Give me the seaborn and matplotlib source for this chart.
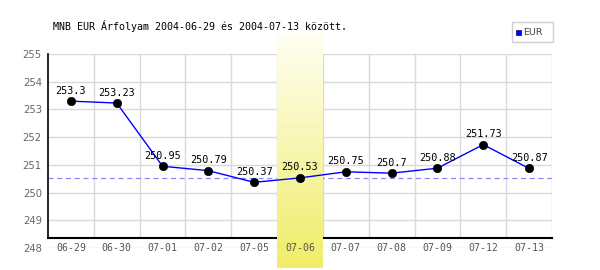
import matplotlib
matplotlib.use("Agg")
import matplotlib.pyplot as plt
import seaborn as sns
import numpy as np
import pandas as pd
from matplotlib.patches import Rectangle

dates = ["06-29", "06-30", "07-01", "07-02", "07-05", "07-06",
         "07-07", "07-08", "07-09", "07-12", "07-13"]
values = [253.3, 253.23, 250.95, 250.79, 250.37, 250.53,
          250.75, 250.7, 250.88, 251.73, 250.87]
value_labels = ["253.3", "253.23", "250.95", "250.79", "250.37", "250.53",
                "250.75", "250.7", "250.88", "251.73", "250.87"]
y_ticks = [248, 249, 250, 251, 252, 253, 254, 255]
highlight = "07-06"
ref_value = 250.53
title = "MNB EUR Árfolyam 2004-06-29 és 2004-07-13 között."
series_name = "EUR"

sns.set_style("white")
plt.rcParams['font.family'] = ['DejaVu Sans']

df = pd.DataFrame({"x": np.arange(len(dates)), "v": values})

fig = plt.figure(figsize=(6, 2.7), dpi=100)
ax = fig.add_axes([48/600, 1-248/270, 504/600, 194/270])
ymin, ymax = 248, 255
base = 248 + 10/27.71  # x-axis line position

# spines first (set_position resets ticks)
for s in ["top", "right"]:
    ax.spines[s].set_visible(False)
ax.spines["bottom"].set_position(("data", base))
ax.spines["bottom"].set_color("black")
ax.spines["bottom"].set_linewidth(1.5)
ax.spines["bottom"].set_zorder(2)
ax.spines["left"].set_color("black")
ax.spines["left"].set_linewidth(1.2)

# highlight gradient
hi = dates.index(highlight)
grad = np.linspace(0, 1, 256).reshape(-1, 1)
top = np.array([1.0, 1.0, 0.95])
bot = np.array([0.94, 0.93, 0.41])
img = top[None, None, :] * (1 - grad[..., None]) + bot[None, None, :] * grad[..., None]
ax.imshow(img, extent=(hi-0.5, hi+0.5, 248 - 20/27.71, 255 + 20/27.71),
          origin="upper", aspect='auto', clip_on=False, zorder=2.5,
          interpolation='bilinear')

# grid
for y in y_ticks:
    ax.axhline(y, color="#d9d9d9", lw=1, zorder=1)
for k in range(len(dates)):
    ax.vlines(k + 0.5, base, ymax, color="#d9d9d9", lw=1, zorder=1)

ax.axhline(ref_value, color="#8888ff", lw=0.9, ls=(0, (4, 3)), zorder=2)

sns.lineplot(data=df, x="x", y="v", color="#0000ff", lw=1, ax=ax, zorder=3)
sns.scatterplot(data=df, x="x", y="v", color="black", s=36, edgecolor="black",
                ax=ax, zorder=4)

for i, (v, t) in enumerate(zip(values, value_labels)):
    ax.annotate(t, (i, v), xytext=(0, 7.5), textcoords="offset points",
                ha="center", va="center", fontsize=7.3, family="DejaVu Sans Mono",
                color="black", zorder=5)

ax.set_xlim(-0.5, len(dates) - 0.5)
ax.set_ylim(ymin, ymax)
ax.spines["left"].set_bounds(base, ymax)
ax.set_xlabel("")
ax.set_ylabel("")
ax.set_xticks(range(len(dates)))
ax.set_xticklabels(dates, family="DejaVu Sans Mono", fontsize=7.1, color="#555555")
ax.set_yticks(y_ticks)
ax.set_yticklabels([str(t) for t in y_ticks], fontsize=7.2, color="#666666")
ax.tick_params(axis="both", length=0)
ax.tick_params(axis="x", pad=3.5)
ax.tick_params(axis="y", pad=4.5)
ax.set_facecolor("none")
ax.xaxis.set_zorder(7)

fig.text(53/600, 1-26/270, title, family="DejaVu Sans Mono", fontsize=7.2,
         va="center", ha="left", color="black")

# legend box
fig.patches.append(Rectangle((512/600, 1-42/270), 41/600, 20/270,
                             transform=fig.transFigure, fill=False,
                             edgecolor="#d0d0d0", lw=1))
fig.patches.append(Rectangle((516/600, 1-35/270), 5/600, 5/270,
                             transform=fig.transFigure, facecolor="#0000ff",
                             edgecolor="#000080", lw=0.5))
fig.text(523/600, 1-32.5/270, series_name, fontsize=6.8, va="center",
         ha="left", color="#444444")

fig.savefig("out.png", dpi=100)
